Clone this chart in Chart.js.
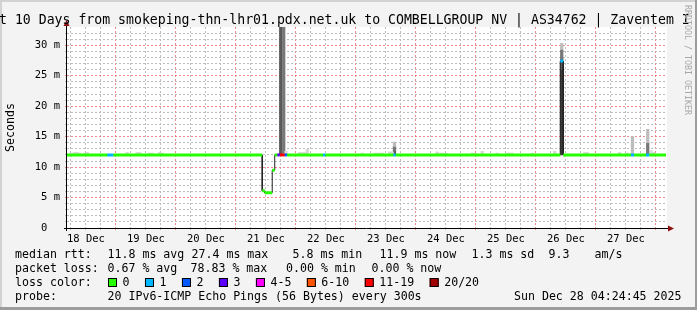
<!DOCTYPE html>
<html>
<head>
<meta charset="utf-8">
<script src="https://cdn.jsdelivr.net/npm/chart.js@4.4.1/dist/chart.umd.min.js"></script>
<style>
  html, body { margin: 0; padding: 0; background: #f3f3f3; }
  canvas { display: block; }
</style>
</head>
<body>
<canvas id="chart" width="697" height="310"></canvas>
<script>
// =====================
// DATA  (x = hours since Dec 18 00:00, y = ms)
// =====================
const T_START = 4.41;   // Dec 18 04:24:45
const T_END = 244.41;   // Dec 28 04:24:45
const Y_MAX = 33;

// median rtt: step boundaries, value and loss class per step
const medHours = [4.41, 20.5, 23, 82.5, 83.5, 86.5, 87.5, 88.5, 89.5, 91.5, 92.5,
  106.8, 107.8, 134.9, 135.9, 201.7, 202.9, 230, 231.3, 236, 237.3, 244];
const medMs = [12, 12, 12, 6.1, 5.8, 9.5, 12, 12, 12, 12, 12,
  12, 12, 12, 12, 27.4, 12, 12, 12, 12, 12];
const medLoss = [0, 1, 0, 0, 0, 0, 0, 3, 6, 2, 0,
  1, 0, 1, 0, 1, 0, 1, 0, 1, 0];

// smoke: [hour, lo, hi]
const smokeFaint = [
  [6.5, 12, 12.3], [7.5, 12, 12.4], [8.5, 12, 12.4], [9.5, 12, 12.3], [11.5, 12, 12.3], [12.5, 12, 12.4],
  [28.5, 12, 12.4], [32.5, 12, 12.4], [33.5, 12, 12.4], [37.5, 12, 12.3], [38.5, 12, 12.3],
  [41.5, 12, 12.4], [42.5, 12, 12.3], [92, 12, 12.6],
  [97.5, 12, 12.4], [98.5, 12, 12.4], [99.5, 12, 12.4], [100.5, 12, 12.9],
  [122.5, 12, 12.3], [127.5, 12, 12.3], [128.5, 12, 12.3], [129.5, 12, 12.3], [130.5, 12, 12.3],
  [133.5, 12, 12.5], [134.5, 12, 12.5],
  [152.5, 12, 12.5], [154, 12, 12.3], [155, 12, 12.3], [156, 12, 12.3],
  [166.5, 12, 12.3], [167.5, 12, 12.3], [170.5, 12, 12.6], [176.5, 12, 12.3],
  [180.5, 12, 12.3], [181.5, 12, 12.3], [182.5, 12, 12.3], [190.5, 12, 12.3], [199.5, 12, 12.6],
  [211.5, 12, 12.4], [212.5, 12, 12.4], [225.5, 12, 12.4], [228.5, 12, 12.3],
  [238, 12, 12.7], [239, 12, 12.4]
];
const smokeLight = [[230.6, 12, 15.0], [236.7, 14.0, 16.2], [202.3, 29.3, 30.3], [135.4, 13.4, 14.1]];
const smokeMid = [[236.7, 12, 14.0], [202.3, 27.8, 29.3], [135.4, 12.7, 13.4], [91.1, 12, 34]];
const smokeDark = [[89.9, 12, 34], [202.3, 26, 27.8], [135.4, 12, 12.7]];
const smokeDarkest = [[202.3, 12, 26]];

const LOSS_LABELS = ["0", "1", "2", "3", "4-5", "6-10", "11-19", "20/20"];
const LOSS_COLORS = ["#26ff00", "#00b8ff", "#0059ff", "#5e00ff", "#ff00ff", "#ff5500", "#ff0000", "#a10000"];

const TITLE = "t 10 Days from smokeping-thn-lhr01.pdx.net.uk to COMBELLGROUP NV | AS34762 | Zaventem I";
const RTT_STATS = ["11.8 ms avg", "27.4 ms max", "5.8 ms min", "11.9 ms now", "1.3 ms sd", "9.3", "am/s"];
const LOSS_STATS = ["0.67 % avg", "78.83 % max", "0.00 % min", "0.00 % now"];
const PROBE = "20 IPv6-ICMP Echo Pings (56 Bytes) every 300s";
const STAMP = "Sun Dec 28 04:24:45 2025";

// ---------- HELPERS ----------
const MONO = '"DejaVu Sans Mono", monospace';
const RED_GRID = "rgba(235,110,110,0.8)";
const GRAY_GRID = "#bdbdbd";

function medianPoints() {
  const pts = [];
  for (let i = 0; i < medMs.length; i++) {
    pts.push({ x: medHours[i], y: medMs[i] }, { x: medHours[i + 1], y: medMs[i] });
  }
  return pts;
}

function lossPoints(k) {
  const pts = [];
  for (let i = 0; i < medMs.length; i++) {
    if (medLoss[i] !== k) continue;
    pts.push({ x: medHours[i], y: medMs[i] }, { x: medHours[i + 1], y: medMs[i] }, { x: medHours[i + 1], y: null });
  }
  return pts;
}

function smokeSet(list, color) {
  return {
    type: "bar",
    data: list.map((s) => ({ x: s[0], y: [s[1], s[2]] })),
    backgroundColor: color,
    borderWidth: 0,
    barThickness: 2.6,
    grouped: false,
    order: 5,
  };
}

// ---------- FRAME / TEXT PLUGIN ----------
const frame = {
  id: "frame",
  beforeDraw(chart) {
    const { ctx, chartArea: a } = chart;
    ctx.save();
    ctx.fillStyle = "#f3f3f3";
    ctx.fillRect(0, 0, 697, 310);
    ctx.fillStyle = "#ffffff";
    ctx.fillRect(a.left, a.top, a.right - a.left, a.bottom - a.top);
    ctx.fillStyle = "#d2d2d2";
    ctx.fillRect(0, 0, 697, 2);
    ctx.fillRect(0, 0, 2, 310);
    ctx.fillStyle = "#9c9c9c";
    ctx.fillRect(695, 0, 2, 310);
    ctx.fillRect(0, 307, 697, 3);
    ctx.restore();
  },
  afterDraw(chart) {
    const { ctx, chartArea: a } = chart;
    ctx.save();

    // axes + arrows
    ctx.strokeStyle = "#000";
    ctx.lineWidth = 1;
    ctx.beginPath();
    ctx.moveTo(a.left - 3, a.bottom + 0.5);
    ctx.lineTo(a.right + 2, a.bottom + 0.5);
    ctx.moveTo(a.left - 0.5, a.bottom + 3);
    ctx.lineTo(a.left - 0.5, a.top - 2);
    ctx.stroke();
    ctx.fillStyle = "#8b1010";
    ctx.beginPath();
    ctx.moveTo(a.right + 1, a.bottom - 2.5);
    ctx.lineTo(a.right + 7, a.bottom + 0.5);
    ctx.lineTo(a.right + 1, a.bottom + 3.5);
    ctx.fill();
    ctx.beginPath();
    ctx.moveTo(a.left - 3.5, a.top - 1);
    ctx.lineTo(a.left - 0.5, a.top - 7);
    ctx.lineTo(a.left + 2.5, a.top - 1);
    ctx.fill();

    // title
    ctx.fillStyle = "#000";
    ctx.font = "13.2px " + MONO;
    ctx.textBaseline = "alphabetic";
    ctx.textAlign = "left";
    ctx.fillText(TITLE, -1, 24);

    // vertical axis title
    ctx.save();
    ctx.translate(11, 127.5);
    ctx.rotate(-Math.PI / 2);
    ctx.font = "11.6px " + MONO;
    ctx.textAlign = "center";
    ctx.textBaseline = "middle";
    ctx.fillText("Seconds", 0, 0);
    ctx.restore();

    // watermark
    ctx.save();
    ctx.translate(687.5, 5);
    ctx.rotate(Math.PI / 2);
    ctx.font = "8.3px " + MONO;
    ctx.fillStyle = "#a8a8a8";
    ctx.textAlign = "left";
    ctx.textBaseline = "middle";
    ctx.fillText("RRDTOOL / TOBI OETIKER", 0, 0);
    ctx.restore();

    // legend
    ctx.font = "11.6px " + MONO;
    ctx.textBaseline = "middle";
    ctx.fillStyle = "#000";
    const rttX = [108, 192, 293, 380, 472, 549, 595];
    ctx.fillText("median rtt:", 15, 254.5);
    RTT_STATS.forEach((t, i) => ctx.fillText(t, rttX[i] - 0.5, 254.5));

    const lossX = [108, 191, 286.5, 372];
    ctx.fillText("packet loss:", 15, 268.5);
    LOSS_STATS.forEach((t, i) => ctx.fillText(t, lossX[i] - 0.5, 268.5));

    ctx.fillText("loss color:", 15, 282.5);
    const cw = ctx.measureText("0").width;
    let x = 108;
    LOSS_LABELS.forEach((lab, i) => {
      ctx.fillStyle = LOSS_COLORS[i];
      ctx.fillRect(x, 278, 9, 9);
      ctx.strokeStyle = "#000";
      ctx.strokeRect(x + 0.5, 278.5, 8, 8);
      ctx.fillStyle = "#000";
      ctx.fillText(lab, x + 14.5, 282.5);
      x += 15 + lab.length * cw + 15;
    });

    ctx.fillText("probe:", 15, 296.5);
    ctx.fillText(PROBE, 107.5, 296.5);
    ctx.textAlign = "right";
    ctx.fillText(STAMP, 681.5, 296.5);

    ctx.restore();
  },
};

// ---------- CHART ----------
const lossSets = LOSS_LABELS.map((lab, k) => ({
  type: "line",
  data: lossPoints(k),
  borderColor: LOSS_COLORS[k],
  borderWidth: 3,
  borderCapStyle: "butt",
  pointRadius: 0,
  spanGaps: false,
  order: 1,
}));

new Chart(document.getElementById("chart"), {
  type: "line",
  data: {
    datasets: [
      smokeSet(smokeFaint, "#d6d6d6"),
      smokeSet(smokeLight, "#bdbdbd"),
      smokeSet(smokeMid, "#777777"),
      smokeSet(smokeDark, "#5a5a5a"),
      smokeSet(smokeDarkest, "#3c3c3c"),
      {
        type: "line",
        data: medianPoints(),
        borderColor: "#202020",
        borderWidth: 1,
        pointRadius: 0,
        order: 2,
      },
      ...lossSets,
    ],
  },
  options: {
    responsive: false,
    animation: false,
    devicePixelRatio: 1,
    events: [],
    layout: { padding: { top: 27, right: 30, left: 0, bottom: 0 } },
    elements: { line: { tension: 0 }, point: { radius: 0 } },
    plugins: { legend: { display: false }, tooltip: { enabled: false } },
    scales: {
      x: {
        type: "linear",
        min: T_START,
        max: T_END,
        offset: false,
        afterFit: (s) => { s.height = 82; },
        afterBuildTicks: (s) => {
          const t = [];
          for (let h = 6; h <= T_END; h += 6) t.push({ value: h });
          s.ticks = t;
        },
        grid: {
          offset: false,
          color: (c) => (c.tick && c.tick.value % 24 === 0 ? RED_GRID : GRAY_GRID),
          tickLength: 2,
        },
        border: { display: false, dash: [2, 2] },
        ticks: {
          autoSkip: false,
          maxRotation: 0,
          padding: 3,
          color: "#000",
          font: { family: "DejaVu Sans Mono", size: 10.5 },
          callback: (v) => (v % 24 === 12 ? `${18 + Math.floor(v / 24)} Dec` : ""),
        },
      },
      y: {
        type: "linear",
        min: 0,
        max: Y_MAX,
        afterFit: (s) => { s.width = 67; },
        afterBuildTicks: (s) => {
          const t = [];
          for (let v = 0; v < Y_MAX; v++) t.push({ value: v });
          s.ticks = t;
        },
        grid: {
          color: (c) => (c.tick && c.tick.value % 5 === 0 ? RED_GRID : GRAY_GRID),
          tickLength: 2,
        },
        border: { display: false, dash: [2, 2] },
        ticks: {
          autoSkip: false,
          padding: 5,
          color: "#000",
          font: { family: "DejaVu Sans Mono", size: 10.5 },
          callback: (v) => (v % 5 === 0 ? (v === 0 ? "0  " : `${v} m`) : ""),
        },
      },
    },
  },
  plugins: [frame],
});
</script>
</body>
</html>
